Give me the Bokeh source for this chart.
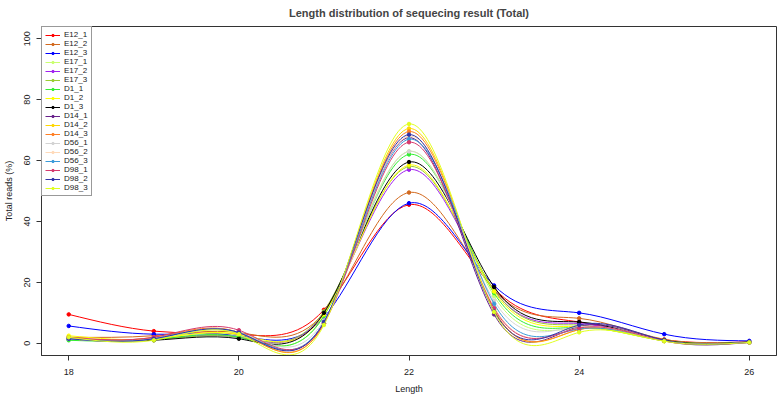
import numpy as np
from bokeh.plotting import figure
from bokeh.models import Range1d, FixedTicker, Legend, LegendItem, ColumnDataSource
from bokeh.embed import file_html
from bokeh.resources import INLINE

lengths = [18, 19, 20, 21, 22, 23, 24, 25, 26]
names = ["E12_1", "E12_2", "E12_3", "E17_1", "E17_2", "E17_3", "D1_1", "D1_2", "D1_3",
         "D14_1", "D14_2", "D14_3", "D56_1", "D56_2", "D56_3", "D98_1", "D98_2", "D98_3"]
colors = ["#FF0000", "#D2691E", "#0000FF", "#CAFF70", "#A020F0", "#9ACD32", "#33EE33", "#FFFF00", "#000000",
          "#68228B", "#FFD700", "#FF7F24", "#D3D3D3", "#FFDAB9", "#3A9AD9", "#D63A6E", "#3333AA", "#E0FF20"]

E12_1 = [9.5, 4.0, 3.0, 11.0, 45.5, 18.0, 7.0, 1.2, 0.5]
E12_2 = [2.0, 2.5, 3.5, 10.0, 49.5, 17.5, 8.2, 1.3, 0.5]
E12_3 = [5.7, 3.0, 2.5, 8.5, 46.0, 19.0, 10.0, 3.0, 0.8]
E17_1 = [1.5, 1.5, 2.5, 9.0, 63.0, 15.5, 5.0, 0.8, 0.3]
E17_2 = [1.5, 1.5, 2.0, 10.0, 57.0, 17.5, 6.5, 1.0, 0.4]
E17_3 = [1.2, 1.2, 2.0, 10.5, 58.0, 17.5, 6.0, 1.0, 0.4]
D1_1 = [1.0, 1.2, 2.0, 9.0, 62.0, 16.5, 5.3, 0.8, 0.3]
D1_2 = [2.5, 1.5, 3.0, 9.5, 58.5, 17.0, 5.5, 0.8, 0.3]
D1_3 = [1.5, 1.0, 1.5, 10.0, 59.5, 18.5, 7.0, 1.0, 0.4]
D14_1 = [1.5, 1.5, 3.5, 7.0, 67.5, 9.5, 5.5, 0.8, 0.3]
D14_2 = [1.5, 1.5, 3.5, 6.5, 70.5, 11.0, 4.5, 0.7, 0.3]
D14_3 = [1.8, 2.0, 3.5, 6.5, 69.5, 11.0, 4.5, 0.8, 0.3]
D56_1 = [1.5, 1.5, 3.5, 7.5, 63.0, 14.0, 5.5, 0.8, 0.3]
D56_2 = [1.5, 1.5, 3.5, 7.0, 68.0, 12.0, 5.0, 0.8, 0.3]
D56_3 = [1.5, 1.5, 3.5, 7.0, 67.0, 13.0, 4.7, 0.8, 0.3]
D98_1 = [2.0, 2.0, 4.3, 6.5, 66.0, 11.5, 5.0, 0.8, 0.3]
D98_2 = [1.5, 1.5, 3.5, 7.0, 68.5, 10.5, 6.0, 1.0, 0.4]
D98_3 = [2.0, 1.0, 3.0, 6.0, 72.0, 10.3, 3.6, 0.7, 0.3]

series = [E12_1, E12_2, E12_3, E17_1, E17_2, E17_3, D1_1, D1_2, D1_3,
          D14_1, D14_2, D14_3, D56_1, D56_2, D56_3, D98_1, D98_2, D98_3]

FONT = "Liberation Sans"


def spline_bezier(xs, ys):
    """Natural cubic spline through the points, expressed as Bezier segments."""
    x = np.asarray(xs, float)
    y = np.asarray(ys, float)
    n = len(x)
    h = np.diff(x)
    A = np.zeros((n, n))
    b = np.zeros(n)
    A[0, 0] = 1
    A[-1, -1] = 1
    for i in range(1, n - 1):
        A[i, i - 1] = h[i - 1]
        A[i, i] = 2 * (h[i - 1] + h[i])
        A[i, i + 1] = h[i]
        b[i] = 6 * ((y[i + 1] - y[i]) / h[i] - (y[i] - y[i - 1]) / h[i - 1])
    M = np.linalg.solve(A, b)
    m = np.zeros(n)
    for i in range(n - 1):
        m[i] = (y[i + 1] - y[i]) / h[i] - h[i] * (2 * M[i] + M[i + 1]) / 6
    m[-1] = (y[-1] - y[-2]) / h[-1] + h[-1] * (M[-2] + 2 * M[-1]) / 6
    return dict(
        x0=x[:-1], y0=y[:-1], x1=x[1:], y1=y[1:],
        cx0=x[:-1] + h / 3, cy0=y[:-1] + m[:-1] * h / 3,
        cx1=x[1:] - h / 3, cy1=y[1:] - m[1:] * h / 3,
    )


p = figure(frame_width=735, frame_height=329, output_backend="svg", toolbar_location=None,
           x_range=Range1d(17.68, 26.32), y_range=Range1d(-4, 104),
           min_border_left=33, min_border_right=2, min_border_top=26, min_border_bottom=36)

p.title.text = "Length distribution of sequecing result (Total)"
p.title.align = "center"
p.title.vertical_align = "top"
p.title.text_font = FONT
p.title.text_font_size = "11px"
p.title.text_font_style = "bold"
p.title.offset = 0
p.title.standoff = 12

p.xgrid.visible = False
p.ygrid.visible = False
p.outline_line_color = "#333333"
p.outline_line_width = 1

for ax in (p.xaxis[0], p.yaxis[0]):
    ax.axis_line_color = "#333333"
    ax.major_tick_line_color = "#333333"
    ax.major_tick_in = 0
    ax.major_tick_out = 5
    ax.minor_tick_line_color = None
    ax.major_label_text_font = FONT
    ax.major_label_text_font_size = "9px"
    ax.major_label_text_color = "#222222"
    ax.axis_label_text_font = FONT
    ax.axis_label_text_font_size = "9px"
    ax.axis_label_text_font_style = "normal"
    ax.axis_label_text_color = "#222222"

p.xaxis.ticker = FixedTicker(ticks=[18, 20, 22, 24, 26])
p.yaxis.ticker = FixedTicker(ticks=[0, 20, 40, 60, 80, 100])
p.yaxis.major_label_orientation = "vertical"
p.xaxis.axis_label = "Length"
p.yaxis.axis_label = "Total reads (%)"
p.xaxis.major_label_standoff = 8
p.xaxis.axis_label_standoff = 6
p.yaxis.major_label_standoff = 6
p.yaxis.axis_label_standoff = 8

items = []
for name, col, ys in zip(names, colors, series):
    src = ColumnDataSource(spline_bezier(lengths, ys))
    p.bezier(x0="x0", y0="y0", x1="x1", y1="y1", cx0="cx0", cy0="cy0", cx1="cx1", cy1="cy1",
             source=src, line_color=col, line_width=1)
    pts = p.scatter(lengths, ys, size=3.5, fill_color=col, line_color=col, marker="circle")
    leg_line = p.line([float("nan")], [float("nan")], line_color=col, line_width=1)
    items.append(LegendItem(label=name, renderers=[leg_line, pts]))

legend = Legend(items=items, location="top_left", margin=0, padding=3,
                spacing=0, label_height=6, glyph_height=6, glyph_width=15,
                label_standoff=4, label_text_font=FONT, label_text_font_size="8px",
                label_text_color="#222222",
                border_line_color="#333333", border_line_width=1,
                background_fill_color="white", background_fill_alpha=1)
p.add_layout(legend)

open("out.html", "w").write(file_html(p, INLINE))
